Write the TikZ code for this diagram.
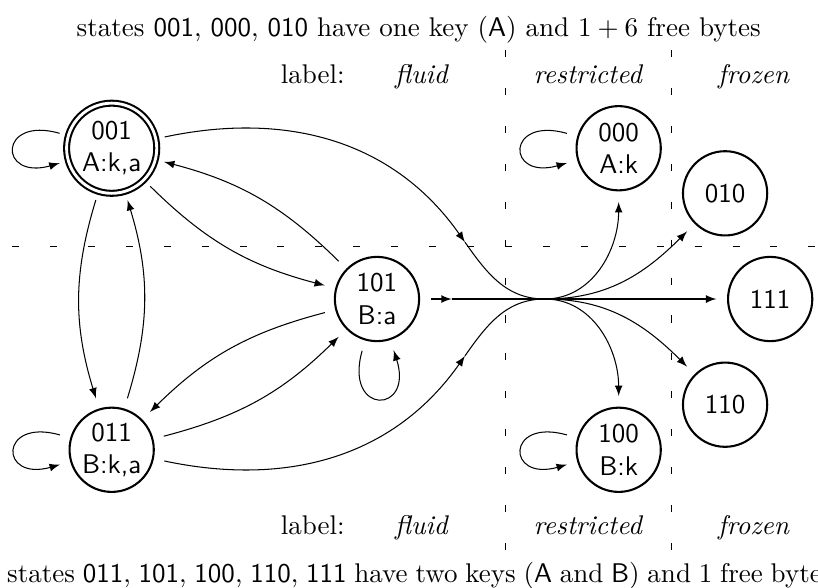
\documentclass[tikz,border=0pt]{standalone}
\usepackage{fix-cm}
\usepackage{tikz}
\usepackage{xcolor}
\usetikzlibrary{shapes,arrows,positioning,fit,backgrounds}

\begin{document}
\begin{tikzpicture}[on grid, font=\fontsize{10.4}{12.5}\selectfont]
    \tikzstyle{state} = [circle, draw, thick, minimum size=1.14cm, inner sep=0pt, outer sep=4.5pt, align=center, font=\sffamily\fontsize{10.4}{12.5}\selectfont]
    \tikzstyle{accepting} = [double, double distance=1.1pt, minimum size=1.22cm, outer sep=3.5pt]
    \tikzstyle{arrow} = [->,>=latex]
    \tikzstyle{selfloop} = [looseness=5.5]
    \tikzstyle{divider} = [dash pattern=on 2.7pt off 11.9pt]
    \tikzstyle{caption} = [anchor=base west, inner sep=0pt]
    \tikzstyle{column} = [anchor=base, inner sep=0pt]

    \useasboundingbox (-5.101,-3.910) rectangle (5.967,4.046);

    \node [state] (s101) {101\\B:a};
    \node [state, accepting, above left=2.04cm and 3.59cm of s101] (s001) {001\\A:k,a};
    \node [state, below left=2.04cm and 3.59cm of s101] (s011) {011\\B:k,a};
    \node [state, above right=2.04cm and 3.27cm of s101] (s000) {000\\A:k};
    \node [state, below right=2.04cm and 3.27cm of s101] (s100) {100\\B:k};
    \node [state, above right=1.43cm and 4.71cm of s101] (s010) {010};
    \node [state, below right=1.43cm and 4.71cm of s101] (s110) {110};
    \node [state, right=5.32cm of s101] (s111) {111};

    \coordinate [right=2.27cm of s101] (cross);
    \coordinate [right=1.01cm of s101] (m3);
    \coordinate [above right=0.77cm and 1.19cm of s101] (m1);
    \coordinate [below right=0.77cm and 1.19cm of s101] (m2);

    \draw [divider] (1.745,3.369) -- (1.745,-3.41);
    \draw [divider] (3.99,3.369) -- (3.99,-3.41);
    \draw [divider] (-4.939,0.717) -- (5.967,0.717);

    \node [caption] (keysA) at (-4.07,3.55) {states \textsf{001}, \textsf{000}, \textsf{010} have one key (\textsf{A}) and $1+6$ free bytes};
    \node [caption] (keysB) at (-5.01,-3.83) {\spaceskip=3pt plus 1pt minus 0.5pt\relax states \textsf{011}, \textsf{101}, \textsf{100}, \textsf{110}, \textsf{111} have two keys (\textsf{A} and \textsf{B}) and 1 free bytes};

    \node [column] (labtop) at (-0.87,2.92) {label:};
    \node [column] (fluidtop) at (0.61,2.92) {\textit{fluid}};
    \node [column] (restrtop) at (2.86,2.92) {\textit{restricted}};
    \node [column] (frozentop) at (5.10,2.92) {\textit{frozen}};
    \node [column] (labbot) at (-0.87,-3.19) {label:};
    \node [column] (fluidbot) at (0.61,-3.19) {\textit{fluid}};
    \node [column] (restrbot) at (2.86,-3.19) {\textit{restricted}};
    \node [column] (frozenbot) at (5.10,-3.19) {\textit{frozen}};

    \draw [arrow] (s001) to[selfloop, out=164, in=196] (s001);
    \draw [arrow] (s011) to[selfloop, out=164, in=196] (s011);
    \draw [arrow] (s000) to[selfloop, out=164, in=196] (s000);
    \draw [arrow] (s100) to[selfloop, out=164, in=196] (s100);
    \draw [arrow] (s101) to[selfloop, out=-106, in=-72] (s101);

    \draw [arrow] (s001) to[bend right=17] (s011);
    \draw [arrow] (s011) to[bend right=17] (s001);
    \draw [arrow] (s001) to[bend right=15] (s101);
    \draw [arrow] (s101) to[bend right=15] (s001);
    \draw [arrow] (s101) to[bend right=15] (s011);
    \draw [arrow] (s011) to[bend right=15] (s101);

    \draw [arrow] (s001) to[out=12, in=125] (m1);
    \draw (m1) to[out=-55, in=180] (cross);
    \draw [arrow] (s011) to[out=-12, in=-125] (m2);
    \draw (m2) to[out=55, in=180] (cross);
    \draw [arrow] (s101) -- (m3);
    \draw (m3) -- (cross);

    \draw [arrow] (cross) to[out=0, in=-90] (s000);
    \draw [arrow] (cross) to[out=0, in=-135] (s010);
    \draw [arrow] (cross) -- (s111);
    \draw [arrow] (cross) to[out=0, in=135] (s110);
    \draw [arrow] (cross) to[out=0, in=90] (s100);
\end{tikzpicture}
\end{document}
